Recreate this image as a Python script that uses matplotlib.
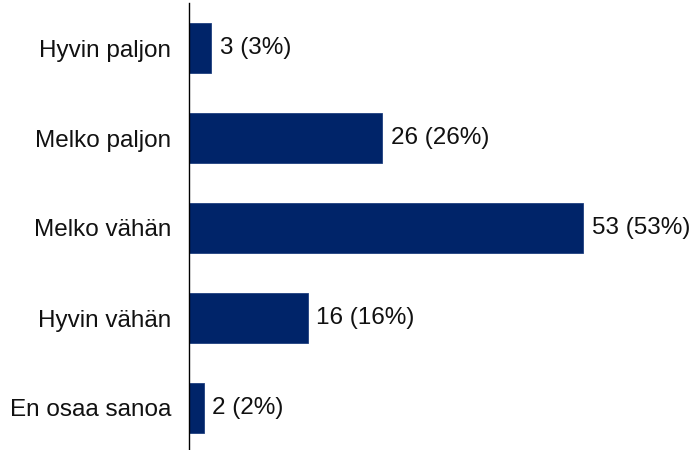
import matplotlib
matplotlib.use("Agg")
import matplotlib.pyplot as plt

categories = ["Hyvin paljon", "Melko paljon", "Melko vähän", "Hyvin vähän", "En osaa sanoa"]
counts = [3, 26, 53, 16, 2]
percents = [3, 26, 53, 16, 2]

plt.rcParams["font.family"] = ["Liberation Sans", "DejaVu Sans"]

fig = plt.figure(figsize=(6.93, 4.5), dpi=100)
ax = fig.add_axes([189 / 693, -3 / 450, 1 - 189 / 693, 450 / 450])

ypos = list(range(len(categories)))
ax.barh(ypos, counts, height=0.55, color="#002469", edgecolor="#1f3f7f", linewidth=0.6)

for y, c, p in zip(ypos, counts, percents):
    ax.text(c + 1.15, y, f"{c} ({p}%)", va="center", ha="left", fontsize=17.5, color="#111111")

ax.set_yticks(ypos)
ax.set_yticklabels(categories, fontsize=17.5, color="#111111")
ax.set_ylim(len(categories) - 0.5, -0.5)
ax.set_xlim(0, 504 / (394 / 53))
ax.tick_params(axis="y", length=0, pad=13)
ax.set_xticks([])
for side in ["top", "right", "bottom"]:
    ax.spines[side].set_visible(False)
ax.spines["left"].set_color("black")
ax.spines["left"].set_linewidth(1.0)

fig.savefig("out.png", dpi=100)
